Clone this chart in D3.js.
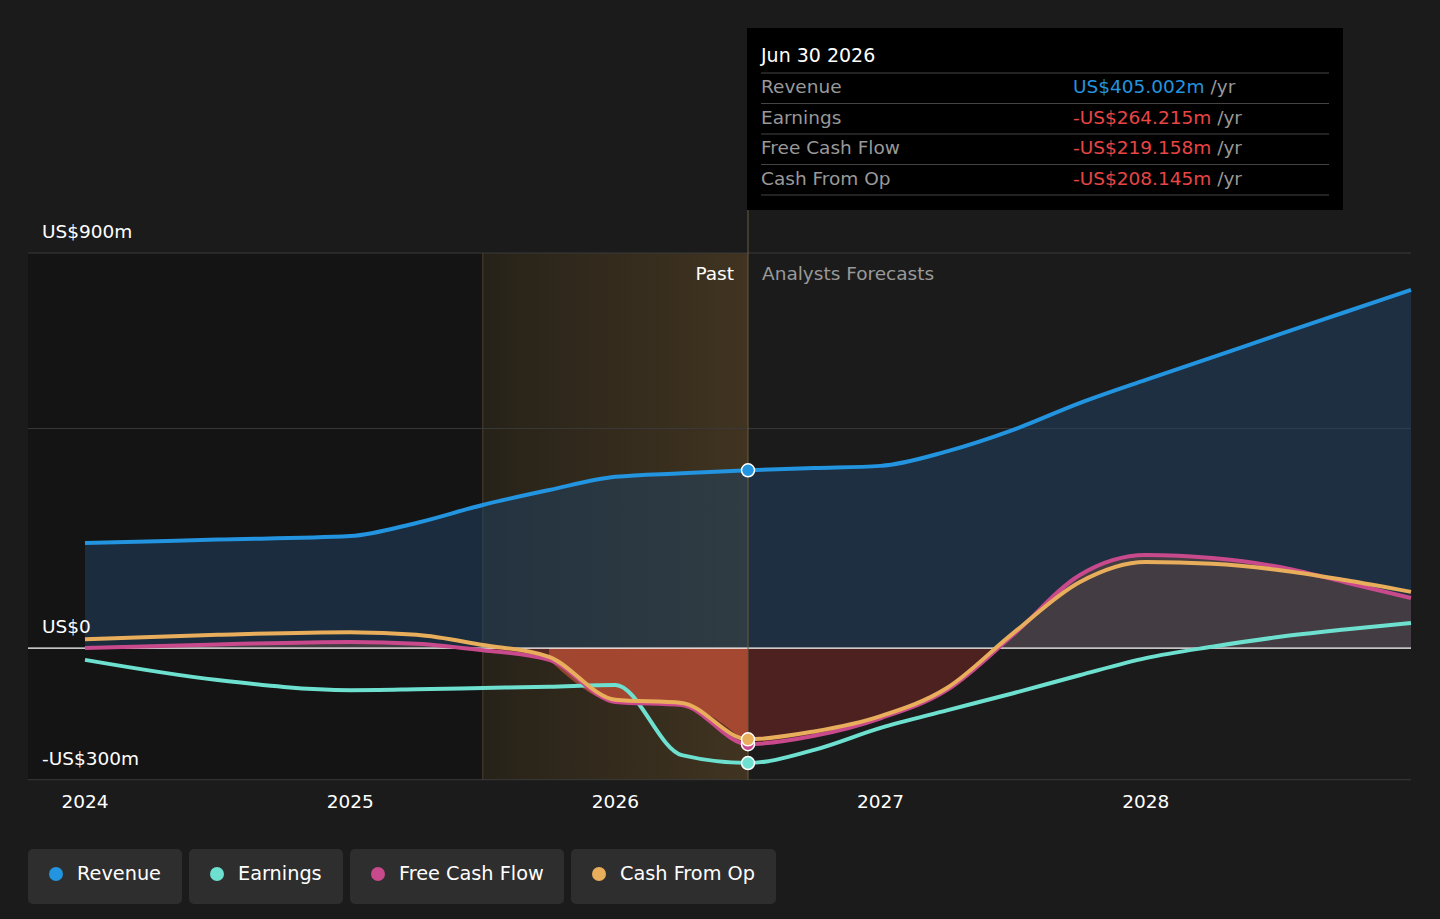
<!DOCTYPE html>
<html lang="en">
<head>
<meta charset="UTF-8">
<title>Revenue and Earnings</title>
<script src="https://d3js.org/d3.v7.min.js"></script>
<style>
  body { margin: 0; background: #1b1b1b; font-family: "DejaVu Sans", sans-serif; }
  text { font-family: "DejaVu Sans", sans-serif; }
</style>
</head>
<body>
<script>
const years = [2024, 2024.5, 2025, 2025.25, 2025.5, 2025.75, 2026, 2026.25, 2026.5, 2026.75, 2027, 2027.25, 2027.5, 2027.75, 2028, 2028.25, 2028.5, 2028.75, 2029];
const revenue  = [239, 247, 255, 285, 326, 360, 390, 398, 405, 410, 415, 448, 497, 558, 611, 662, 714, 765, 816];
const earnings = [-27, -73, -96, -94, -91, -88, -84, -244, -262, -232, -182, -142, -103, -62, -23, 3, 25, 42, 57];
const fcf      = [0, 8, 14, 10, -5, -27, -123, -130, -219, -200, -160, -96, 30, 166, 212, 205, 185, 150, 114];
const cfo      = [20, 30, 36, 30, 7, -20, -118, -125, -208, -190, -155, -91, 34, 150, 196, 192, 178, 155, 128];
const yTicks = [900, 0, -300];
const yTickLabels = ["US$900m", "US$0", "-US$300m"];
const xTicks = [2024, 2025, 2026, 2027, 2028];
const legendNames = ["Revenue", "Earnings", "Free Cash Flow", "Cash From Op"];
const colors = ["#2394df", "#6de0cf", "#c84a8c", "#e8ae5c"];
const tipRows = [["Revenue", "US$405.002m"], ["Earnings", "-US$264.215m"], ["Free Cash Flow", "-US$219.158m"], ["Cash From Op", "-US$208.145m"]];

const W = 1440, H = 919;
const svg = d3.select("body").append("svg").attr("width", W).attr("height", H).style("background", "#1b1b1b");
const x = d3.scaleLinear().domain([2024, 2029]).range([85, 1411]);
const y = d3.scaleLinear().domain([-300, 900]).range([779.7, 253]);
const now = 2026.5;

// past background
svg.append("rect").attr("x", 28).attr("y", 253).attr("width", x(2025.5) - 28).attr("height", 527).attr("fill", "#141414");
const grad = svg.append("defs").append("linearGradient").attr("id", "pg");
grad.append("stop").attr("offset", "0%").attr("stop-color", "#2a2418");
grad.append("stop").attr("offset", "100%").attr("stop-color", "#4a3a22");
svg.append("rect").attr("x", x(2025.5)).attr("y", 253).attr("width", x(now) - x(2025.5)).attr("height", 527).attr("fill", "url(#pg)").attr("opacity", 0.8);
svg.append("line").attr("x1", x(2025.5)).attr("x2", x(2025.5)).attr("y1", 253).attr("y2", 780).attr("stroke", "#4a4130");

// grid
[900, 500, -300].forEach(v => svg.append("line").attr("x1", 28).attr("x2", 1411).attr("y1", y(v)).attr("y2", y(v)).attr("stroke", "#3a3a3a"));

const idx = d3.range(years.length);
const curve = d3.curveMonotoneX;
// revenue area
svg.append("path").datum(idx).attr("fill", "#1f4465").attr("opacity", 0.5)
  .attr("d", d3.area().curve(curve).x(i => x(years[i])).y0(y(0)).y1(i => y(revenue[i])));
// fcf area
svg.append("defs").append("clipPath").attr("id", "neg").append("rect").attr("x", 0).attr("y", y(0)).attr("width", W).attr("height", 300);
svg.append("defs").append("clipPath").attr("id", "pos").append("rect").attr("x", 0).attr("y", 0).attr("width", W).attr("height", y(0));
const fa = d3.area().curve(curve).x(i => x(years[i])).y0(y(0)).y1(i => y(fcf[i]));
svg.append("path").datum(idx).attr("fill", "#8e2a2a").attr("opacity", 0.45).attr("clip-path", "url(#neg)").attr("d", fa);
svg.append("path").datum(idx).attr("fill", "#6a4a44").attr("opacity", 0.5).attr("clip-path", "url(#pos)").attr("d", fa);
// past red overlay
svg.append("path").datum(idx.filter(i => years[i] >= 2025.75 && years[i] <= now)).attr("fill", "#d25a3a").attr("opacity", 0.6)
  .attr("d", fa);

svg.append("line").attr("x1", 28).attr("x2", 1411).attr("y1", y(0)).attr("y2", y(0)).attr("stroke", "#ffffff").attr("stroke-width", 1.2);
svg.append("line").attr("x1", x(now)).attr("x2", x(now)).attr("y1", 210).attr("y2", 780).attr("stroke", "#6b5a3a");

const series = [revenue, earnings, fcf, cfo];
[1, 2, 3, 0].forEach(s => {
  svg.append("path").datum(idx).attr("fill", "none").attr("stroke", colors[s]).attr("stroke-width", 4)
    .attr("d", d3.line().curve(curve).x(i => x(years[i])).y(i => y(series[s][i])));
});
[0, 2, 1, 3].forEach(s => {
  const i = years.indexOf(now);
  svg.append("circle").attr("cx", x(now)).attr("cy", y(series[s][i])).attr("r", 6.5).attr("fill", colors[s]).attr("stroke", "#fff").attr("stroke-width", 1.5);
});

// axes labels
yTicks.forEach((v, i) => svg.append("text").attr("x", 42).attr("y", y(v) - 15).attr("fill", "#fff").attr("font-size", 18.5).text(yTickLabels[i]));
xTicks.forEach(v => svg.append("text").attr("x", x(v)).attr("y", 808).attr("text-anchor", "middle").attr("fill", "#fff").attr("font-size", 18.5).text(v));
svg.append("text").attr("x", x(now) - 14).attr("y", 280).attr("text-anchor", "end").attr("fill", "#fff").attr("font-size", 18.5).text("Past");
svg.append("text").attr("x", x(now) + 14).attr("y", 280).attr("fill", "#999").attr("font-size", 18.5).text("Analysts Forecasts");

// tooltip
svg.append("rect").attr("x", 747).attr("y", 28).attr("width", 596).attr("height", 182).attr("fill", "#000");
svg.append("text").attr("x", 761).attr("y", 62).attr("fill", "#fff").attr("font-size", 19).text("Jun 30 2026");
tipRows.forEach((r, i) => {
  const yy = 93 + i * 30.5;
  svg.append("line").attr("x1", 761).attr("x2", 1329).attr("y1", yy - 20).attr("y2", yy - 20).attr("stroke", "#444");
  svg.append("text").attr("x", 761).attr("y", yy).attr("fill", "#999").attr("font-size", 18.5).text(r[0]);
  const t = svg.append("text").attr("x", 1073).attr("y", yy).attr("font-size", 18.5);
  t.append("tspan").attr("fill", i === 0 ? "#2394df" : "#e84545").text(r[1]);
  t.append("tspan").attr("fill", "#999").text(" /yr");
});
svg.append("line").attr("x1", 761).attr("x2", 1329).attr("y1", 195).attr("y2", 195).attr("stroke", "#444");

// legend
const lw = [154, 154, 214, 205];
let lx = 28;
legendNames.forEach((n, i) => {
  const g = svg.append("g").attr("transform", `translate(${lx},849)`);
  g.append("rect").attr("width", lw[i]).attr("height", 55).attr("rx", 5).attr("fill", "#2e2e2e");
  g.append("circle").attr("cx", 28).attr("cy", 25).attr("r", 7).attr("fill", colors[i]);
  g.append("text").attr("x", 49).attr("y", 31).attr("fill", "#fff").attr("font-size", 19.3).text(n);
  lx += lw[i] + 7;
});
</script>
</body>
</html>
